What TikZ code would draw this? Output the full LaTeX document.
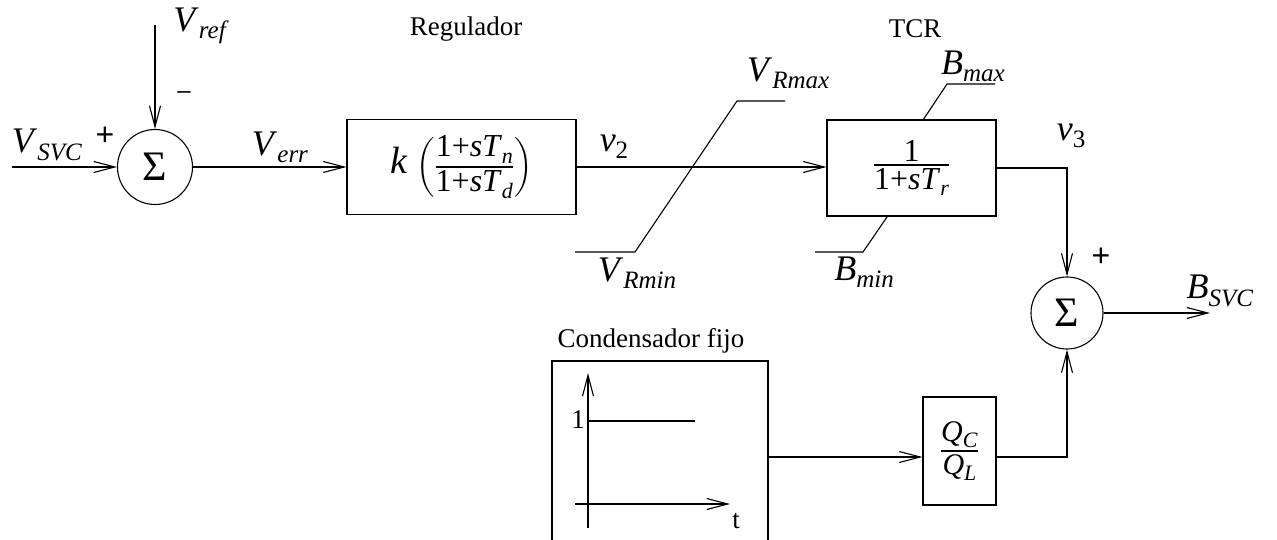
\documentclass[tikz,border=0pt]{standalone}
\usepackage{fontspec}
\setmainfont{Liberation Serif}
\newfontfamily\sansf{Liberation Sans}
\usepackage{amsmath}
\usetikzlibrary{arrows.meta}
\newcommand{\fs}[1]{\fontsize{#1}{#1}\selectfont}
\newcommand{\lbl}[2]{\textit{#1}\raisebox{-0.2em}{\fs{25}\textit{#2}}}
\newcommand{\sub}[2]{\textit{#1}\raisebox{-0.2em}{\fs{22}\textit{#2}}}
\tikzset{
  ln/.style={line width=1.1pt},
  arr/.style={ln,-{Straight Barb[length=21pt,width=11pt,line width=1.1pt]}},
  blk/.style={draw,ln,inner sep=0,align=center},
  sumc/.style={circle,draw,ln,inner sep=0},
  lab/.style={inner sep=0,font=\fs{36}},
  txt/.style={inner sep=0,font=\fs{27}},
  sgn/.style={inner sep=0,font=\sansf\fs{32}}
}
\begin{document}
\begin{tikzpicture}[x=1pt,y=-1pt]
\useasboundingbox (0,0) rectangle (1277,540);
% summing junction 1
\node[sumc,minimum size=75pt,font=\fs{42}] (s1) at (155,167) {Σ};
\coordinate (in1) at (12,167);
\coordinate (vr) at (155,25);
\draw[arr] (in1) -- (s1.west);
\draw[arr] (vr) -- (s1.north);
\node[lab] (lvref) at (201,26) {\lbl{V}{ref}};
\node[inner sep=0,font=\sansf\fs{24}] (lminus) at (184,95) {–};
\node[sgn] (lplus1) at (105,136) {+};
\node[lab] (lvsvc) at (47,145) {\lbl{V}{SVC}};
\node[lab] (lverr) at (280,147) {\lbl{V}{err}};
% regulator
\node[blk,minimum width=229pt,minimum height=95pt,font=\fs{36}] (reg) at (461.5,167)
  {$\mbox{\fs{38}\textit{k}}\,\left(\genfrac{}{}{2.4pt}{}{\mbox{\fs{32}1+\sub{sT}{n}}}{\mbox{\fs{32}1+\sub{sT}{d}}}\right)$};
\node[txt] (lreg) at (466,29) {Regulador};
\draw[arr] (s1.east) -- (reg.west);
\node[lab] (lv2) at (614,147) {\textit{v}\raisebox{-0.2em}{\fs{25}2}};
% limiter
\coordinate (l1) at (575,252);
\coordinate (l2) at (635,252);
\coordinate (l3) at (737,101);
\coordinate (l4) at (785,101);
\draw[ln] (l1) -- (l2) -- (l3) -- (l4);
\node[lab] (lvrmax) at (788,73) {\lbl{V}{Rmax}};
\node[lab] (lvrmin) at (637,273) {\lbl{V}{Rmin}};
% TCR
\node[blk,minimum width=169pt,minimum height=96pt,font=\fs{36}] (tcr) at (911.5,168)
  {$\genfrac{}{}{2.4pt}{}{\mbox{\fs{32}1}}{\mbox{\fs{32}1+\sub{sT}{r}}}$};
\node[txt] (ltcr) at (915,29) {TCR};
\draw[arr] (reg.east) -- (tcr.west |- reg.east);
\coordinate (b1) at (923,120);
\coordinate (b2) at (947,84);
\coordinate (b3) at (995,84);
\draw[ln] (b1) -- (b2) -- (b3);
\coordinate (b4) at (815,252);
\coordinate (b5) at (863,252);
\coordinate (b6) at (887,217);
\draw[ln] (b4) -- (b5) -- (b6);
\node[lab] (lbmax) at (973,66) {\lbl{B}{max}};
\node[lab] (lbmin) at (864,272) {\lbl{B}{min}};
% summing junction 2
\node[sumc,minimum size=72pt,font=\fs{42}] (s2) at (1067,313) {Σ};
\draw[arr] (tcr.east) -| (s2.north);
\node[lab] (lv3) at (1071,136) {\textit{v}\raisebox{-0.2em}{\fs{25}3}};
\node[sgn] (lplus2) at (1101,257) {+};
\coordinate (out) at (1210,313);
\draw[arr] (s2.east) -- (out);
\node[lab] (lbsvc) at (1220,291) {\lbl{B}{SVC}};
% fixed capacitor
\node[blk,minimum width=216pt,minimum height=220pt] (cond) at (660,471) {};
\node[txt] (lcond) at (651,341) {Condensador fijo};
\coordinate (ay0) at (588,528);
\coordinate (ay1) at (588,373);
\coordinate (ax0) at (575,504);
\coordinate (ax1) at (730,504);
\coordinate (lv0) at (588,421);
\coordinate (lv1) at (695,421);
\draw[arr] (ay0) -- (ay1);
\draw[arr] (ax0) -- (ax1);
\draw[ln] (lv0) -- (lv1);
\node[inner sep=0,font=\fs{27},anchor=east] (lone) at (585,420) {1};
\node[inner sep=0,font=\fs{27}] (lt) at (736,521) {t};
% QC/QL
\node[blk,minimum width=73pt,minimum height=108pt,font=\fs{32}] (qc) at (959.5,451)
  {$\genfrac{}{}{2.4pt}{}{\mbox{\fs{30}\sub{Q}{C}}}{\mbox{\fs{30}\sub{Q}{L}}}$};
\coordinate (qy) at (0,457);
\draw[arr] (cond.east |- qy) -- (qc.west |- qy);
\draw[arr] (qc.east |- qy) -| (s2.south);
\end{tikzpicture}
\end{document}
